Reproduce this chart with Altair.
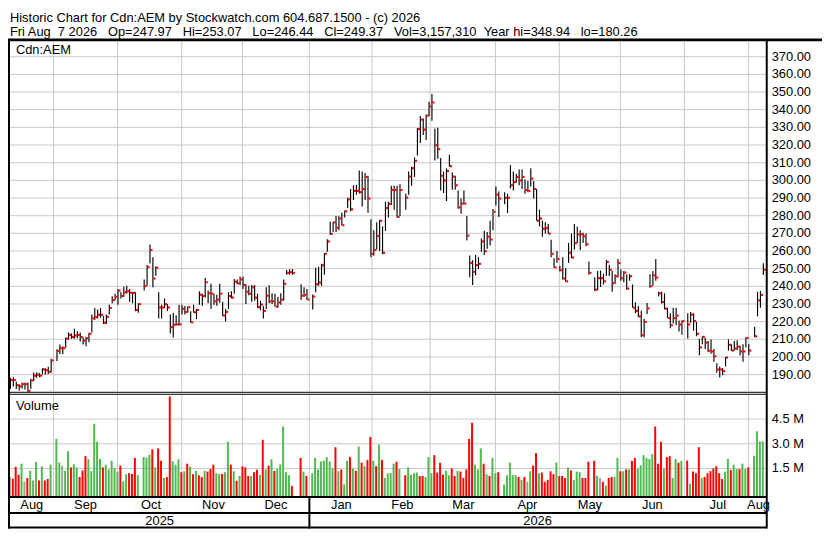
import altair as alt
import pandas as pd

# ---------------- data ----------------
FIRST_DAY = "2025-08-11"
LAST_DAY = "2026-08-07"
HOLIDAYS = ["2025-09-01", "2025-10-13", "2025-12-25", "2025-12-26", "2026-01-01",
            "2026-02-16", "2026-04-03", "2026-05-18", "2026-07-01", "2026-08-03"]

MONTH_LABELS = ["Aug", "Sep", "Oct", "Nov", "Dec", "Jan", "Feb", "Mar", "Apr",
                "May", "Jun", "Jul", "Aug"]
YEAR_LABELS = ["2025", "2026"]

CLOSE = [
    186.9, 186.9, 184.0, 183.3, 184.6, 184.6, 180.8, 186.7, 189.4, 190.0, 189.4, 193.0, 192.5, 191.6, 198.0,
    203.4, 204.9, 204.9, 210.4, 212.4, 211.3, 212.1, 212.4, 211.3, 209.2, 210.6, 213.1, 221.8, 222.5, 223.9, 223.9, 219.4, 222.7, 227.7, 232.2, 234.0,
    237.6, 234.5, 236.7, 237.2, 236.3, 236.3, 226.6, 229.9, 240.1, 250.9, 260.6, 244.4, 250.5, 228.0, 228.0, 229.9, 228.0, 216.9, 218.2, 218.4, 218.4, 227.2,
    225.5, 228.2, 219.6, 225.3, 226.6, 235.2, 234.5, 242.3, 236.1, 235.8, 231.5, 232.5, 235.8, 223.4, 225.5, 234.5, 233.6, 242.6, 241.7, 243.9,
    240.8, 236.9, 235.8, 239.4, 233.6, 228.2, 229.7, 226.1, 234.7, 231.5, 231.5, 228.6, 230.9, 232.5, 241.4, 247.6, 248.0, 247.6, 234.7, 235.2, 232.5,
    234.2, 241.2, 242.1, 251.9, 258.4, 265.4, 269.7, 276.2, 273.2, 278.4, 274.6, 282.5, 289.2, 283.6, 294.0, 294.0, 293.3, 295.1, 301.9, 289.7, 258.4,
    260.6, 268.5, 277.1, 259.0, 284.3, 286.6, 294.5, 294.5, 279.3, 294.5, 290.2, 302.1, 306.9, 311.1, 329.0, 334.4, 328.7, 336.6, 341.8,
    344.1, 319.9, 317.7, 302.6, 299.9, 305.3, 308.0, 302.1, 297.2, 284.7, 286.8, 286.8, 268.7, 253.2, 248.2, 252.0, 252.7, 265.4, 259.9, 268.1, 266.5, 282.2,
    291.9, 289.7, 290.1, 290.1, 297.2, 299.0, 301.9, 299.9, 301.9, 294.5, 294.0, 301.0, 295.1, 277.1, 278.4, 272.6, 273.0, 269.8, 258.4, 250.7, 255.4,
    249.1, 244.4, 242.8, 259.0, 256.3, 264.4, 269.4, 269.4, 268.3, 263.8, 247.6, 238.1, 244.6, 244.6, 242.8, 253.8, 249.3, 241.7, 245.7, 253.2,
    244.6, 247.8, 238.7, 245.7, 227.9, 226.1, 223.0, 212.3, 219.8, 227.5, 240.1, 246.2, 245.0, 236.0, 231.1, 227.3, 222.0, 218.0, 222.0, 223.4, 218.4, 220.3,
    218.4, 223.9, 220.3, 213.1, 205.4, 211.4, 208.1, 203.6, 203.1, 200.4, 192.9, 192.9, 192.0, 199.7, 206.9, 203.6, 204.7, 205.8, 203.1, 203.1, 210.8, 203.6,
    211.7, 232.0, 235.1, 249.37,
]
HIGH = [
    188.2, 188.5, 186.0, 184.6, 185.5, 185.5, 185.5, 187.6, 191.2, 191.2, 190.9, 193.6, 193.6, 194.5, 199.0,
    204.3, 207.0, 206.1, 211.0, 213.9, 213.3, 216.0, 214.6, 213.9, 211.0, 211.5, 213.7, 224.1, 227.7, 226.8, 227.7, 223.2, 224.1, 229.5, 234.3, 235.8,
    238.5, 236.7, 239.7, 240.3, 238.5, 236.7, 236.7, 230.4, 243.9, 252.0, 263.6, 256.4, 251.4, 236.7, 229.5, 233.1, 230.0, 224.1, 225.0, 223.6, 229.5, 229.5,
    228.9, 228.6, 225.9, 229.5, 227.2, 237.2, 235.8, 244.8, 237.6, 241.5, 235.8, 235.2, 241.5, 231.3, 227.2, 236.7, 237.2, 244.2, 243.9, 245.6,
    245.6, 241.2, 240.3, 240.8, 240.8, 235.8, 231.8, 228.9, 239.4, 240.6, 236.1, 235.8, 234.0, 236.1, 243.9, 249.3, 249.6, 249.8, 241.2, 239.4, 238.5,
    235.4, 250.5, 251.1, 252.8, 258.8, 266.7, 276.6, 276.6, 279.8, 279.8, 281.6, 282.9, 290.1, 295.1, 297.2, 297.4, 305.5, 305.0, 304.1, 302.6, 278.0,
    271.7, 276.2, 277.6, 273.9, 287.9, 287.9, 296.9, 296.9, 296.9, 297.8, 292.4, 305.0, 307.7, 313.0, 329.6, 336.4, 335.0, 337.3, 344.5,
    348.94, 329.2, 329.8, 312.7, 305.0, 306.8, 314.5, 304.4, 302.6, 294.2, 289.7, 294.2, 279.8, 257.4, 254.7, 257.7, 256.5, 267.0, 271.4, 270.8, 277.1, 283.8,
    296.5, 293.7, 293.3, 292.4, 308.6, 305.0, 303.7, 306.2, 306.2, 300.5, 299.6, 306.8, 299.6, 295.1, 283.4, 277.1, 276.2, 275.3, 266.3, 255.9, 260.0,
    251.6, 256.5, 250.2, 264.5, 269.9, 275.3, 273.9, 271.7, 270.3, 269.9, 254.1, 245.1, 248.6, 248.9, 247.1, 254.9, 252.2, 248.6, 246.8, 255.4,
    249.5, 248.6, 246.8, 246.8, 241.0, 230.9, 228.8, 226.1, 221.6, 230.6, 246.8, 248.6, 255.4, 236.9, 236.9, 236.0, 227.9, 224.8, 227.9, 227.9, 220.7, 220.7,
    224.8, 225.5, 224.8, 219.8, 210.3, 211.7, 210.8, 209.0, 209.9, 204.5, 196.4, 194.6, 193.8, 200.0, 209.9, 207.2, 209.0, 209.4, 206.3, 207.2, 211.2, 207.2,
    217.1, 236.9, 237.4, 253.07,
]
LOW = [
    181.9, 183.3, 181.9, 181.0, 182.2, 181.5, 180.26, 182.0, 186.4, 188.2, 188.5, 190.0, 190.0, 190.3, 191.0,
    197.7, 201.6, 201.6, 205.2, 209.7, 210.3, 210.3, 210.6, 208.8, 207.0, 206.1, 208.3, 213.9, 221.0, 221.8, 222.3, 218.7, 218.7, 224.1, 230.4, 232.2,
    229.5, 233.1, 234.0, 235.8, 231.3, 230.4, 225.9, 225.0, 237.6, 240.3, 252.9, 239.4, 246.0, 221.8, 221.8, 227.7, 226.0, 213.3, 211.0, 217.8, 217.8, 224.1,
    224.1, 225.0, 219.3, 225.0, 221.4, 229.5, 229.0, 233.6, 230.4, 227.2, 229.5, 229.0, 230.7, 223.2, 220.1, 227.2, 233.1, 235.8, 241.2, 240.8,
    238.5, 230.0, 234.9, 231.3, 231.8, 227.7, 226.4, 221.8, 227.2, 230.4, 230.0, 228.6, 227.7, 229.5, 231.8, 246.6, 246.6, 246.6, 232.2, 234.0, 232.2,
    226.8, 236.7, 240.3, 240.3, 246.6, 259.5, 269.0, 270.8, 270.8, 271.7, 274.4, 278.9, 284.3, 282.5, 288.8, 291.8, 292.5, 285.2, 288.8, 281.6, 256.4,
    257.3, 260.9, 260.0, 258.2, 271.4, 278.9, 286.1, 283.4, 278.9, 279.8, 283.4, 291.9, 296.9, 301.9, 314.0, 321.2, 325.6, 322.9, 336.4,
    333.7, 311.3, 312.2, 294.2, 292.9, 288.3, 307.7, 294.7, 294.7, 283.9, 281.1, 286.5, 266.0, 245.1, 240.8, 246.2, 249.8, 259.5, 257.7, 261.3, 263.1, 271.7,
    285.7, 279.3, 286.5, 281.6, 295.4, 294.2, 298.7, 297.2, 295.1, 292.4, 293.3, 296.5, 289.7, 277.1, 273.9, 268.1, 269.9, 269.6, 256.5, 250.5, 253.4,
    248.4, 243.9, 242.6, 253.2, 255.9, 260.9, 264.5, 260.6, 264.5, 262.7, 246.6, 237.2, 237.8, 239.6, 241.0, 245.9, 245.9, 236.9, 241.4, 245.0,
    243.2, 242.3, 238.1, 243.2, 227.9, 224.8, 222.5, 211.2, 211.2, 224.3, 239.2, 240.5, 243.2, 234.2, 230.2, 227.0, 222.0, 216.2, 218.9, 218.0, 214.4, 212.6,
    210.5, 219.4, 214.8, 211.7, 200.9, 207.2, 204.5, 202.7, 201.8, 197.3, 191.1, 188.4, 189.6, 194.6, 203.6, 203.3, 203.6, 204.0, 200.9, 197.3, 205.4, 200.9,
    211.2, 223.0, 227.9, 246.44,
]
VOLUME_M = [
    0.98, 0.88, 1.60, 1.11, 1.79, 0.71, 0.92, 1.36, 0.77, 1.89, 0.77, 1.62, 0.77, 0.86, 1.73,
    3.30, 1.85, 1.67, 1.36, 2.54, 1.56, 1.75, 1.56, 0.98, 1.38, 2.25, 2.06, 1.33, 4.22, 3.12, 2.08, 1.56, 1.73, 1.44, 1.96, 1.52,
    1.30, 1.67, 0.71, 1.15, 1.21, 1.17, 2.14, 1.09, 2.19, 2.16, 2.33, 2.66, 1.56, 2.72, 1.96, 0.92, 0.98, 5.88, 1.94, 1.73, 2.06, 1.27,
    1.33, 1.79, 1.60, 1.15, 1.35, 1.08, 0.98, 1.36, 1.31, 1.46, 1.73, 1.21, 1.17, 1.17, 1.27, 3.12, 1.73, 1.33, 0.75, 1.04,
    1.62, 1.56, 1.04, 1.04, 1.27, 1.42, 1.11, 3.24, 1.44, 1.67, 2.06, 1.35, 1.48, 1.75, 4.05, 1.27, 1.09, 0.44, 2.14, 1.31, 1.04,
    1.21, 2.14, 1.44, 1.92, 1.98, 2.19, 1.92, 1.50, 2.79, 1.33, 1.44, 0.53, 1.96, 2.19, 1.50, 1.36, 2.83, 1.85, 1.64, 2.02, 3.41,
    1.96, 1.64, 2.95, 2.02, 0.92, 1.21, 1.21, 1.79, 1.91, 1.46, 1.09, 1.56, 1.11, 1.21, 1.25, 1.04, 1.04, 0.98, 2.19,
    1.21, 2.31, 1.25, 1.85, 1.11, 1.36, 1.09, 1.50, 1.04, 1.36, 1.31, 0.92, 1.44, 3.30, 4.28, 1.73, 1.44, 2.72, 1.79, 1.15, 1.04, 2.14,
    1.21, 1.27, 0.52, 1.09, 1.85, 1.09, 1.09, 0.98, 0.81, 0.98, 0.69, 1.33, 1.67, 2.43, 1.21, 1.25, 0.69, 0.81, 1.33, 1.15, 1.85,
    1.04, 1.04, 0.92, 1.56, 1.38, 0.81, 1.31, 1.27, 0.92, 0.92, 1.91, 1.96, 1.04, 0.92, 0.69, 0.46, 0.92, 0.98, 0.98, 2.14,
    1.33, 1.33, 1.44, 1.44, 1.96, 2.14, 1.50, 1.69, 2.31, 2.14, 2.08, 2.37, 4.05, 1.79, 3.12, 1.50, 2.19, 2.25, 0.92, 2.08, 1.85, 1.96,
    1.98, 0.57, 1.31, 1.21, 2.79, 0.92, 0.98, 1.21, 1.34, 1.50, 1.63, 1.21, 0.86, 1.31, 2.08, 1.40, 1.73, 1.46, 1.46, 1.79, 1.46, 1.56,
    2.27, 3.76, 3.14, 3.157,
]
# u = up (green), d = down (red), n = unchanged (grey)
VOL_DIR = (
    "n d d d u n d u u u d u d d u "
    "u u n u u d u u d d d u u u u u d u u u u "
    "u d u u d d d u u u u d u d d u d d u u u d "
    "u d u d u d d u d d d u u d u u d u d u "
    "d d d u d d u d u d u d u u u u u d d u d "
    "u u u u u u u u d u d u u d u d u d u d d "
    "u d u d u u u u d u d u u u u d d u u "
    "u d d d d u u d d u d d d d d u u u d u d u "
    "u d u u u u u d u d n u d d u d d d d d u "
    "d d d u d u u u d d d d u n d u d d u u "
    "d u d u d d u u u u u u d d d u d d u u d u "
    "d u d d d u d d d d d d d u u d u u d u u d "
    "u u u u"
).split()

PRICE_TICKS = [190, 200, 210, 220, 230, 240, 250, 260, 270, 280, 290, 300,
               310, 320, 330, 340, 350, 360, 370]
VOLUME_TICKS = [1.5, 3.0, 4.5]
VOLUME_TICK_LABELS = ["1.5 M", "3.0 M", "4.5 M"]

SYMBOL = "Cdn:AEM"
TITLE_1 = "Historic Chart for Cdn:AEM by Stockwatch.com 604.687.1500 - (c) 2026"
NB = "\u00a0"
SP2 = " " + NB
SP3 = " " + NB + NB
TITLE_2 = ("Fri Aug" + SP2 + "7 2026" + SP3 + "Op=247.97" + SP3 + "Hi=253.07" + SP3
           + "Lo=246.44" + SP3 + "Cl=249.37" + SP3 + "Vol=3,157,310" + SP2
           + "Year hi=348.94" + SP3 + "lo=180.26")

# ---------------- derived tables ----------------
weekdays = pd.bdate_range(FIRST_DAY, LAST_DAY)
hol = set(pd.to_datetime(HOLIDAYS))
slots = [i for i, d in enumerate(weekdays) if d not in hol]

bars = pd.DataFrame({"slot": slots, "close": CLOSE, "high": HIGH, "low": LOW,
                     "vol": VOLUME_M, "dir": VOL_DIR})

wk = pd.DataFrame({"slot": range(len(weekdays)), "date": weekdays})
wk["ym"] = wk["date"].dt.year * 100 + wk["date"].dt.month
grp = wk.groupby("ym")["slot"].agg(["min", "max"]).reset_index()
month_lab = pd.DataFrame({"c": (grp["min"] + grp["max"] + 1) / 2.0, "m": MONTH_LABELS})

bounds = []
for _, r in grp.iloc[1:].iterrows():
    y, m = divmod(int(r["ym"]), 100)
    first = pd.Timestamp(year=y, month=m, day=1)
    d0 = wk.loc[wk["slot"] == r["min"], "date"].iloc[0]
    bounds.append(r["min"] - 0.45 * (d0 - first).days)
month_grid = pd.DataFrame({"pos": bounds})

wk["y"] = wk["date"].dt.year
ygrp = wk.groupby("y")["slot"].agg(["min", "max"]).reset_index()
year_lab = pd.DataFrame({"c": (ygrp["min"] + ygrp["max"] + 1) / 2.0, "t": YEAR_LABELS})
year_sep = pd.DataFrame({"pos": [float(ygrp["min"].iloc[1])]})

# ---------------- styling ----------------
F = "Liberation Sans, Arial, Helvetica, sans-serif"
GRID = "#c8c8c8"
RED = "#ff0000"
GREEN = "#4fb94f"
GREY = "#a0a0a0"
W, H = 822, 523
X_RANGE = [1.98, 765.2]
PLOT_RIGHT = 766.2
LABEL_X = 771.2
P_TOP, P_BOT = 31.1, 384.3
V_TOP, V_BOT = 388.0, 490.3

xs = alt.Scale(domain=[0, 260], range=X_RANGE, nice=False, zero=False)
ps = alt.Scale(domain=[180.66, 378.7], range=[P_BOT, P_TOP], nice=False, zero=False)
vmin = -0.18
vs = alt.Scale(domain=[vmin, 6.01], range=[V_BOT, 387.5], nice=False, zero=False)

one = pd.DataFrame({"k": [0]})


def hline(y, x1, x2, w, color="black"):
    return alt.Chart(one).mark_rule(color=color, strokeWidth=w).encode(
        x=alt.value(x1), x2=alt.value(x2), y=alt.value(y))


def vline(x, y1, y2, w, color="black"):
    return alt.Chart(one).mark_rule(color=color, strokeWidth=w).encode(
        x=alt.value(x), y=alt.value(y1), y2=alt.value(y2))


def label(text, x, y, size=13, align="left"):
    return alt.Chart(one).mark_text(text=text, align=align, baseline="alphabetic",
                                    font=F, fontSize=size, color="black").encode(
        x=alt.value(x), y=alt.value(y))


layers = []

# grids
layers.append(alt.Chart(month_grid).mark_rule(color=GRID, strokeWidth=1).encode(
    x=alt.X("pos:Q", scale=xs, axis=None), y=alt.value(P_TOP), y2=alt.value(P_BOT)))
layers.append(alt.Chart(month_grid).mark_rule(color=GRID, strokeWidth=1).encode(
    x=alt.X("pos:Q", scale=xs, axis=None), y=alt.value(V_TOP), y2=alt.value(V_BOT)))
ptab = pd.DataFrame({"p": PRICE_TICKS})
layers.append(alt.Chart(ptab).mark_rule(color=GRID, strokeWidth=1).encode(
    y=alt.Y("p:Q", scale=ps, axis=None), x=alt.value(X_RANGE[0]), x2=alt.value(X_RANGE[1])))
vtab = pd.DataFrame({"v": VOLUME_TICKS, "t": VOLUME_TICK_LABELS})
layers.append(alt.Chart(vtab).mark_rule(color=GRID, strokeWidth=1).encode(
    y=alt.Y("v:Q", scale=vs, axis=None), x=alt.value(X_RANGE[0]), x2=alt.value(X_RANGE[1])))

# price bars
base = alt.Chart(bars).transform_calculate(
    xl="datum.slot + 0.17", xc="datum.slot + 0.68", xv="datum.slot - 0.03")
layers.append(base.mark_rule(color="black", strokeWidth=1.15).encode(
    x=alt.X("xl:Q", scale=xs, axis=None),
    y=alt.Y("low:Q", scale=ps, axis=None), y2="high:Q"))
layers.append(base.mark_square(size=4.4, color=RED, opacity=1, filled=True).encode(
    x=alt.X("xc:Q", scale=xs, axis=None),
    y=alt.Y("close:Q", scale=ps, axis=None)))
# volume bars
layers.append(base.mark_rule(strokeWidth=2).encode(
    x=alt.X("xv:Q", scale=xs, axis=None),
    y=alt.Y("vol:Q", scale=vs, axis=None), y2=alt.datum(vmin),
    color=alt.Color("dir:N", scale=alt.Scale(domain=["u", "d", "n"], range=[GREEN, RED, GREY]),
                    legend=None)))

# frame lines
layers += [
    hline(29.7, 0, W, 2.8),
    vline(1, 29.7, H, 2),
    vline(PLOT_RIGHT, 29.7, H, 2),
    hline(385.5, 0, PLOT_RIGHT, 1),
    hline(387.5, 0, PLOT_RIGHT, 1),
    hline(491.2, 0, PLOT_RIGHT, 2),
    hline(507.3, 0, PLOT_RIGHT, 2),
    hline(522.0, 0, PLOT_RIGHT, 2),
]
layers.append(alt.Chart(year_sep).mark_rule(color="black", strokeWidth=2).encode(
    x=alt.X("pos:Q", scale=xs, axis=None), y=alt.value(491.2), y2=alt.value(H)))

# axis labels
layers.append(alt.Chart(ptab).mark_text(align="left", baseline="middle", font=F, fontSize=13,
                                        color="black").encode(
    y=alt.Y("p:Q", scale=ps, axis=None), x=alt.value(LABEL_X),
    text=alt.Text("p:Q", format=".2f")))
layers.append(alt.Chart(vtab).mark_text(align="left", baseline="middle", font=F, fontSize=13,
                                        color="black").encode(
    y=alt.Y("v:Q", scale=vs, axis=None), x=alt.value(LABEL_X), text="t:N"))
layers.append(alt.Chart(month_lab).mark_text(align="center", baseline="alphabetic", font=F,
                                             fontSize=13, color="black").encode(
    x=alt.X("c:Q", scale=xs, axis=None), y=alt.value(503.6), text="m:N"))
layers.append(alt.Chart(year_lab).mark_text(align="center", baseline="alphabetic", font=F,
                                            fontSize=13, color="black").encode(
    x=alt.X("c:Q", scale=xs, axis=None), y=alt.value(519.8), text="t:N"))

# titles and panel captions
layers += [
    label(TITLE_1, 2, 11.5),
    label(TITLE_2, 2, 25.3),
    label(SYMBOL, 8, 44.3),
    label("Volume", 8, 403.0),
]

chart = alt.layer(*layers).resolve_scale(y="independent").properties(
    width=W, height=H, padding=0, autosize=alt.AutoSizeParams(type="none"),
    background="white",
).configure_view(strokeWidth=0)

chart.save("out.html", embed_options={"renderer": "svg", "actions": False})
